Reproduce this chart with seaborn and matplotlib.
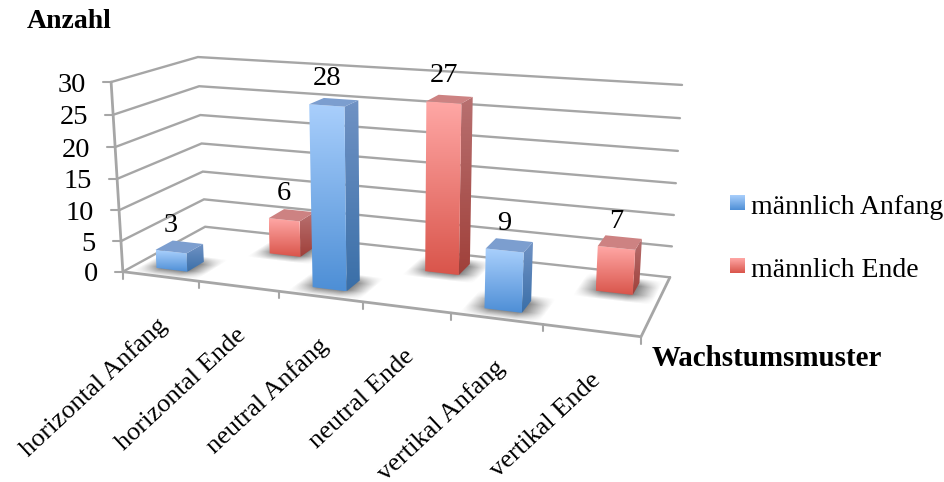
import numpy as np
import pandas as pd
import matplotlib
matplotlib.use("Agg")
import matplotlib.pyplot as plt
from matplotlib.patches import Polygon
from matplotlib.transforms import Transform
import seaborn as sns

# Chart data
categories = ["horizontal Anfang", "horizontal Ende", "neutral Anfang",
              "neutral Ende", "vertikal Anfang", "vertikal Ende"]
values = [3, 6, 28, 27, 9, 7]
series = ["männlich Anfang", "männlich Ende", "männlich Anfang",
          "männlich Ende", "männlich Anfang", "männlich Ende"]
y_ticks = [0, 5, 10, 15, 20, 25, 30]

W, H = 944, 482
sns.set_theme(style="white")
plt.rcParams["font.family"] = ["Liberation Serif", "DejaVu Serif"]
GREY = "#a6a6a6"

BLUE = dict(front=("#a9cffc", "#4e8fd6"), side=("#7092c4", "#3a6fa8"), top="#7c9ecf")
RED = dict(front=("#ffa7a5", "#d9554b"), side=("#b87070", "#a0403a"), top="#cd8282")
STYLE = {"männlich Anfang": BLUE, "männlich Ende": RED}
ROW = {"männlich Anfang": (0.13, 0.33), "männlich Ende": (0.62, 0.84)}

# Perspective camera: (category, depth, value) -> canvas position, solved from the box corners
anchors = [((0, 0, 0), (123, 271.5)), ((6, 0, 0), (641, 337)),
           ((0, 1, 0), (205, 227)), ((6, 1, 0), (670, 277)),
           ((0, 0, 30), (111, 82)), ((0, 1, 30), (198, 57)),
           ((6, 1, 30), (682, 85))]
rows = []
for (u, d, v), (px, py) in anchors:
    rows.append([u, d, v, 1, 0, 0, 0, 0, -px * u, -px * d, -px * v])
    rows.append([0, 0, 0, 0, u, d, v, 1, -py * u, -py * d, -py * v])
rhs = np.array([c for _, p in anchors for c in p], float)
sol = np.linalg.lstsq(np.array(rows, float), rhs, rcond=None)[0]
CAM = np.append(sol, 1.0).reshape(3, 4)


def project(u, d, v):
    u, d, v = np.broadcast_arrays(np.asarray(u, float), np.asarray(d, float), np.asarray(v, float))
    p = CAM @ np.stack([u, d, v, np.ones_like(u)])
    return p[0] / p[2], p[1] / p[2]


class DepthPlane(Transform):
    """Maps seaborn's (category position, value) onto a plane of constant depth."""
    input_dims = output_dims = 2

    def __init__(self, plane):
        super().__init__()
        self.plane = plane

    def transform_non_affine(self, xy):
        xy = np.asarray(xy, float)
        return np.column_stack(project(xy[:, 0] + 0.5, self.plane, xy[:, 1]))


def gradient(ax, poly, colors, z):
    """Vertical colour ramp clipped to a polygon given in canvas coordinates."""
    poly = np.asarray(poly)
    c0, c1 = (np.array(matplotlib.colors.to_rgb(c)) for c in colors)
    t = np.linspace(0, 1, 64)[:, None, None]
    img = (1 - t) * c0[None, None, :] + t * c1[None, None, :]
    im = ax.imshow(img, extent=(poly[:, 0].min(), poly[:, 0].max(), poly[:, 1].max(), poly[:, 1].min()),
                   aspect="auto", zorder=z, interpolation="bilinear")
    clip = Polygon(poly, closed=True, transform=ax.transData, fill=False, lw=0)
    im.set_clip_path(clip)


def floor_shadow(ax, u0, u1, d0, d1, z):
    """Soft dark halo on the floor around a bar's footprint."""
    xs, ys = project([u0 - .3, u1 + .3, u0 - .3, u1 + .3], [d0 - .2, d0 - .2, d1 + .2, d1 + .2], 0)
    x0, x1, y0, y1 = xs.min() - 12, xs.max() + 12, ys.min() - 8, ys.max() + 8
    gx, gy = np.meshgrid(np.arange(x0, x1), np.arange(y0, y1))
    # invert the floor plane
    M = CAM[:, [0, 1, 3]]
    q = np.linalg.inv(M) @ np.stack([gx, gy, np.ones_like(gx)]).reshape(3, -1)
    fu = (q[0] / q[2]).reshape(gx.shape)
    fd = (q[1] / q[2]).reshape(gx.shape)

    def soft(a, lo, hi, s):
        return np.clip((a - lo) / s + .5, 0, 1) * np.clip((hi - a) / s + .5, 0, 1)
    alpha = soft(fu, u0 - .08, u1 + .1, .28) * soft(fd, d0 - .05, d1 + .02, .14)
    rgba = np.zeros(gx.shape + (4,))
    rgba[..., :3] = 0.22
    rgba[..., 3] = 0.7 * alpha
    ax.imshow(rgba, extent=(x0, x1, y1, y0), aspect="auto", zorder=z, interpolation="bilinear")


table = pd.DataFrame({"kategorie": categories, "anzahl": values, "reihe": series})

fig = plt.figure(figsize=(W / 100, H / 100), dpi=100)
ax = fig.add_axes([0, 0, 1, 1])
sns.barplot(data=table, x="kategorie", y="anzahl", hue="reihe", order=categories,
            dodge=False, width=0.41, legend=False, ax=ax, palette=["#7eaee8", "#ee8580"])
bars = [b for b in ax.patches if np.isfinite(b.get_height()) and b.get_height() > 0]
bars.sort(key=lambda b: b.get_x())

ax.set_autoscale_on(False)
ax.set_xlim(0, W)
ax.set_ylim(H, 0)
ax.set_axis_off()

# Gridlines on the side wall and back wall
for v in y_ticks:
    xs, ys = project([0, 0, 6], [0, 1, 1], v)
    ax.plot(xs, ys, color=GREY, lw=1.7, zorder=1, solid_joinstyle="miter")
    tx, ty = project(0, 0, v)
    ax.plot([tx - 8, tx], [ty, ty], color=GREY, lw=1.5, zorder=1)
    ax.text(tx - 25, ty + 3, str(v), ha="right", va="center", fontsize=20.5, color="black")

# Wall and floor frame
xs, ys = project([0, 0], [0, 0], [0, 30])
ax.plot(xs, ys, color=GREY, lw=2, zorder=1)
xs, ys = project([0, 6, 6], [0, 0, 1], [0, 0, 0])
ax.plot(xs, ys, color=GREY, lw=2, zorder=1, solid_joinstyle="miter")

# Category ticks and slanted labels
for i in range(len(categories) + 1):
    tx, ty = project(i, 0, 0)
    ax.plot([tx, tx], [ty, ty + 7], color=GREY, lw=1.5, zorder=1)
for i, name in enumerate(categories):
    tx, ty = project(i + 0.6, 0, 0)
    ax.text(tx - 4, ty + 45, name, rotation=43, rotation_mode="anchor", ha="right", va="center",
            fontsize=19, color="black")

# Bars, back row first; seaborn's rectangles are re-seated on their depth plane
order = sorted(range(6), key=lambda k: (-ROW[series[k]][0], k))
for rank, k in enumerate(order):
    bar, style = bars[k], STYLE[series[k]]
    d0, d1 = ROW[series[k]]
    x0, x1, v = bar.get_x(), bar.get_x() + bar.get_width(), bar.get_height()
    z = 5 + rank
    floor_shadow(ax, x0 + .5, x1 + .5, d0, d1, 2 + 0.1 * rank)
    bar.set_transform(DepthPlane(d0) + ax.transData)
    bar.set_linewidth(0)
    bar.set_zorder(z + 0.1)
    u0, u1 = x0 + .5, x1 + .5
    front = np.column_stack(project([u0, u1, u1, u0], d0, [v, v, 0, 0]))
    side = np.column_stack(project([u1, u1, u1, u1], [d0, d1, d1, d0], [v, v, 0, 0]))
    top = np.column_stack(project([u0, u1, u1, u0], [d0, d0, d1, d1], v))
    bar.set_facecolor("none")
    gradient(ax, side, style["side"], z)
    gradient(ax, front, style["front"], z + 0.05)
    ax.add_patch(Polygon(top, closed=True, facecolor=style["top"], edgecolor="none", zorder=z + 0.05))
    lx, ly = project((u0 + u1) / 2, d0, v)
    ax.text(lx, ly - 26.5, str(values[k]), ha="center", va="center", fontsize=20.5, color="black", zorder=30)

# Axis titles
ax.text(27, 22, "Anzahl", fontsize=20, fontweight="bold", ha="left", va="center", color="black")
ax.text(652, 358, "Wachstumsmuster", fontsize=20.9, fontweight="bold", ha="left", va="center", color="black")

# Legend
for label, y in zip(["männlich Anfang", "männlich Ende"], [205, 268]):
    gradient(ax, [(730, y - 10), (745, y - 10), (745, y + 5), (730, y + 5)], STYLE[label]["front"], 5)
    ax.text(751, y + 2.5, label, fontsize=20, ha="left", va="center", color="black")

fig.savefig("out.png", dpi=100, facecolor="white")
